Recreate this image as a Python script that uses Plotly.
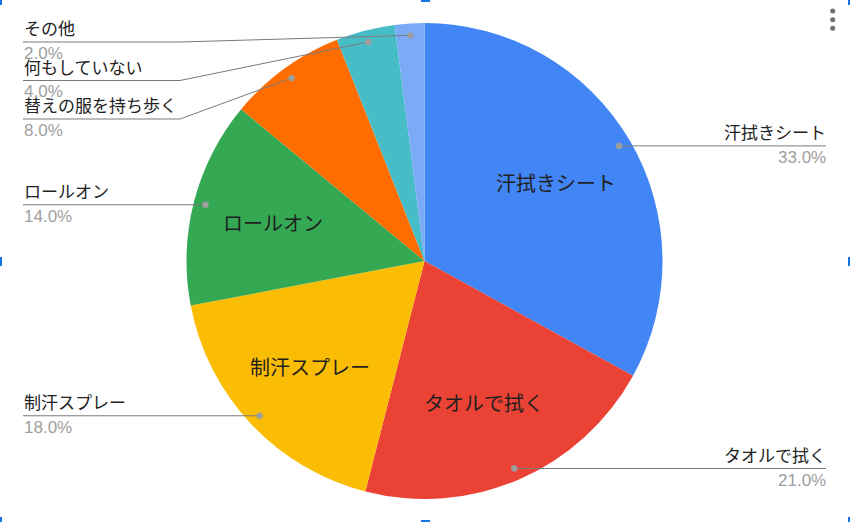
import numpy as np
import plotly.graph_objects as go

# === DATA ===
labels = ["汗拭きシート", "タオルで拭く", "制汗スプレー", "ロールオン",
          "替えの服を持ち歩く", "何もしていない", "その他"]
values = [33, 21, 18, 14, 8, 4, 2]
colors = ["#4285F4", "#EA4335", "#FBBC04", "#34A853",
          "#FF6D01", "#46BDC6", "#7BAAF7"]

# === GEOMETRY (pixels) ===
W, H = 850, 522
cx, cy, R = 424.5, 261, 238
JP = "Noto Sans CJK JP, sans-serif"
NUM = "Liberation Sans, Arial, sans-serif"


def px(x):
    return x / W


def py(y):
    return 1 - y / H


fig = go.Figure()
fig.add_trace(go.Pie(
    labels=labels,
    values=values,
    sort=False,
    direction="clockwise",
    rotation=0,
    marker=dict(colors=colors, line=dict(width=0)),
    textinfo="none",
    hoverinfo="label+percent",
    showlegend=False,
    domain=dict(x=[px(cx - R), px(cx + R)], y=[py(cy + R), py(cy - R)]),
))

total = sum(values)
cum = np.cumsum([0] + values[:-1])
mid = [(c + v / 2) / total * 2 * np.pi for c, v in zip(cum, values)]

shapes = []
annotations = []

# inside labels for the big slices
for lab, v, a in zip(labels, values, mid):
    if v / total >= 0.1:
        r = 0.65 * R
        annotations.append(dict(
            x=px(cx + r * np.sin(a) - 2), y=py(cy - r * np.cos(a)),
            xref="paper", yref="paper", text=lab, showarrow=False,
            font=dict(family=JP, size=20, color="#1f1f1f"),
            xanchor="center", yanchor="middle"))

# outside labels with leader lines
dots = []
for lab, v, a in zip(labels, values, mid):
    r = 0.95 * R
    dots.append((lab, v, cx + r * np.sin(a), cy - r * np.cos(a)))

left = sorted([d for d in dots if d[2] < cx], key=lambda d: d[3])
right = [d for d in dots if d[2] >= cx]

# push stacked labels on the left apart
prev = 3.5
placed = []
for lab, v, x, y in left:
    ly = max(y, prev + 38.5)
    prev = ly
    placed.append((lab, v, x, y, ly, "left"))
for lab, v, x, y in right:
    placed.append((lab, v, x, y, y, "right"))

for lab, v, x, y, ly, side in placed:
    if side == "left":
        xe, xb = 23, 180
    else:
        xe, xb = 826, 670
    if abs(ly - y) > 0.5:
        path = f"M {px(x)},{py(y)} L {px(xb)},{py(ly)} L {px(xe)},{py(ly)}"
    else:
        path = f"M {px(x)},{py(y)} L {px(xe)},{py(ly)}"
    shapes.append(dict(type="path", path=path, xref="paper", yref="paper",
                       line=dict(color="#7a7a7a", width=1)))
    rd = 3.2
    shapes.append(dict(type="circle", xref="paper", yref="paper",
                       x0=px(x - rd), x1=px(x + rd), y0=py(y + rd), y1=py(y - rd),
                       fillcolor="#9e9e9e", line=dict(width=0)))
    anchor = "left" if side == "left" else "right"
    tx = 23 if side == "left" else 827
    annotations.append(dict(
        x=px(tx), y=py(ly - 1), xref="paper", yref="paper", text=lab,
        showarrow=False, xanchor=anchor, yanchor="bottom", borderpad=0,
        font=dict(family=JP, size=17, color="#222222")))
    annotations.append(dict(
        x=px(tx), y=py(ly + 1), xref="paper", yref="paper",
        text=f"{v / total * 100:.1f}%",
        showarrow=False, xanchor=anchor, yanchor="top", borderpad=0,
        font=dict(family=NUM, size=17, color="#9e9e9e")))

# menu dots (top right)
for yy in [11, 19.7, 28.3]:
    shapes.append(dict(type="circle", xref="paper", yref="paper",
                       x0=px(830.2), x1=px(835.2), y0=py(yy + 2.5), y1=py(yy - 2.5),
                       fillcolor="#6e6e6e", line=dict(width=0)))

# selection handles
for hx, hy, hw, hh in [(0, 0, 2, 5), (421, 0, 9, 2), (848, 0, 2, 5),
                       (0, 257, 2, 9), (848, 257, 2, 9),
                       (0, 517, 2, 5), (421, 520, 9, 2), (848, 517, 2, 5)]:
    shapes.append(dict(type="rect", xref="paper", yref="paper",
                       x0=px(hx), x1=px(hx + hw), y0=py(hy + hh), y1=py(hy),
                       fillcolor="#1a73e8", line=dict(width=0)))

fig.update_layout(
    width=W, height=H,
    margin=dict(l=0, r=0, t=0, b=0),
    paper_bgcolor="white",
    plot_bgcolor="white",
    shapes=shapes,
    annotations=annotations,
    font=dict(family=JP),
)

fig.write_html("out.html", config={"displayModeBar": False},
               post_script="document.body.style.margin='0';")
